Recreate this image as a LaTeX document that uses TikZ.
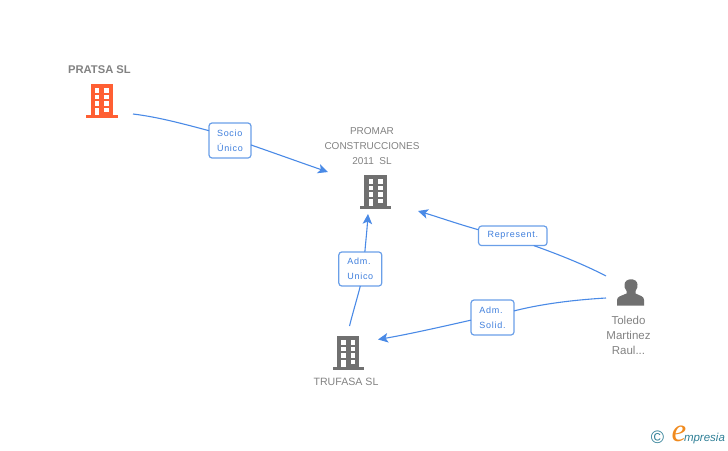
\documentclass[tikz,border=0pt]{standalone}
\usepackage{fontspec}
\setmainfont{Liberation Sans}
\newfontfamily\spaced[LetterSpace=8]{Liberation Sans}
\newfontfamily\logoserif{Liberation Serif}
\usetikzlibrary{arrows.meta}
\definecolor{linkblue}{HTML}{4A8AE6}
\definecolor{boxblue}{HTML}{6A9FE8}
\definecolor{labelblue}{HTML}{3F7FDD}
\definecolor{textgray}{HTML}{828282}
\definecolor{icongray}{HTML}{707070}
\definecolor{iconorange}{HTML}{FF5F33}
\definecolor{logoteal}{HTML}{2F7F96}
\definecolor{logoorange}{HTML}{F08A1E}
\tikzset{
  x=1pt,y=-1pt,
  every node/.style={inner sep=0pt,outer sep=0pt},
  linkline/.style={draw=linkblue,line width=1.1pt},
  linkarrow/.style={linkline,-{Stealth[length=10pt,width=9.5pt,inset=2.4pt]}},
  linkbox/.style={draw=boxblue,line width=1.2pt,rounded corners=3pt,fill=white,
    text=labelblue,font=\spaced\fontsize{9}{15}\selectfont,align=left,anchor=center},
  nodetext/.style={text=textgray,font=\fontsize{10.6}{15}\selectfont,align=center},
  building/.pic={
    \fill[pic actions] (-11.2,0) rectangle (11.2,31);
    \fill[pic actions] (-15.6,31) rectangle (15.6,33.4);
    \foreach \yy/\hh in {4/4.4,10.6/4.4,17/4.4}{
      \fill[white] (-7,\yy) rectangle ++(4.4,\hh);
      \fill[white] (2.4,\yy) rectangle ++(4.6,\hh);
    }
    \fill[white] (-7,23.6) rectangle ++(4.4,7.4);
    \fill[white] (2.4,23.6) rectangle ++(4.6,4.4);
  }
}
\begin{document}
\begin{tikzpicture}
\useasboundingbox (0,0) rectangle (728,450);
% free ends
\coordinate (pratsaOut) at (133,114);
\coordinate (promarInA) at (328,172);
\coordinate (promarInB) at (368,214);
\coordinate (promarInC) at (418,211);
\coordinate (trufasaOut) at (349.5,326);
\coordinate (trufasaIn) at (378,339.5);
\coordinate (toledoOutA) at (606,276);
\coordinate (toledoOutB) at (606,298);
% labels
\node[linkbox,minimum width=42pt,minimum height=35pt] (socio) at (230,140.5) {Socio\\Único};
\node[linkbox,minimum width=43pt,minimum height=34pt] (adm) at (360.3,269) {Adm.\\Unico};
\node[linkbox,minimum width=68.5pt,minimum height=19.5pt] (rep) at (512.8,235.8) {Represent.};
\node[linkbox,minimum width=43pt,minimum height=35pt] (sol) at (492.5,317.5) {Adm.\\Solid.};
% connectors
\draw[linkline] (pratsaOut) .. controls (158,117) and (184,124) .. (socio.155);
\draw[linkarrow] (socio.-12) .. controls (277,154) and (302,163) .. (promarInA);
\draw[linkline] (trufasaOut) .. controls (353,312) and (357,299) .. (adm.-90);
\draw[linkarrow] (adm.75) .. controls (365.5,244) and (367,230) .. (promarInB);
\draw[linkline] (toledoOutA) .. controls (585,265) and (560,255) .. (rep.-25);
\draw[linkarrow] (rep.170) .. controls (458,224) and (438,217) .. (promarInC);
\draw[linkline] (toledoOutB) .. controls (580,299.5) and (545,303) .. (sol.17);
\draw[linkarrow] (sol.187) .. controls (445,326) and (410,334) .. (trufasaIn);
% icons
\pic[fill=iconorange] (pratsaIcon) at (102,84.3) {building};
\pic[fill=icongray] (promarIcon) at (375.5,175.3) {building};
\pic[fill=icongray] (trufasaIcon) at (348.2,336.3) {building};
\fill[icongray] (617,305.7) -- (617,300) .. controls (617,296.5) and (621,296) .. (626.5,293.5)
  -- (626.5,291) .. controls (624.5,288.5) and (624.3,286) .. (624.5,284.5)
  .. controls (624.8,277.5) and (637.2,277.5) .. (637.5,284.5)
  .. controls (637.7,286) and (637.5,288.5) .. (635.5,291)
  -- (635.5,293.5) .. controls (641,296) and (644,296.5) .. (644,300) -- (644,305.7) -- cycle;
% names
\node[nodetext,font=\bfseries\fontsize{11.2}{15}\selectfont] (pratsa) at (99.5,70) {PRATSA SL};
\node[nodetext,font=\fontsize{10}{15}\selectfont] (promar) at (372,146) {PROMAR\\CONSTRUCCIONES\\2011\ \ SL};
\node[nodetext] (trufasa) at (346,381.5) {TRUFASA SL};
\node[nodetext,font=\fontsize{11.5}{15}\selectfont] (toledo) at (628.5,335) {Toledo\\Martinez\\Raul...};
% logo
\node[text=logoteal,font=\fontsize{18}{18}\selectfont] (copy) at (657.5,437.5) {©};
\node[text=logoteal,font=\itshape\fontsize{11.5}{12}\selectfont,anchor=west] (logotext) at (684,439) {mpresia};
\node[text=logoorange,font=\logoserif\itshape\fontsize{33}{33}\selectfont] (logoe) at (679,433.5) {e};
\end{tikzpicture}
\end{document}
